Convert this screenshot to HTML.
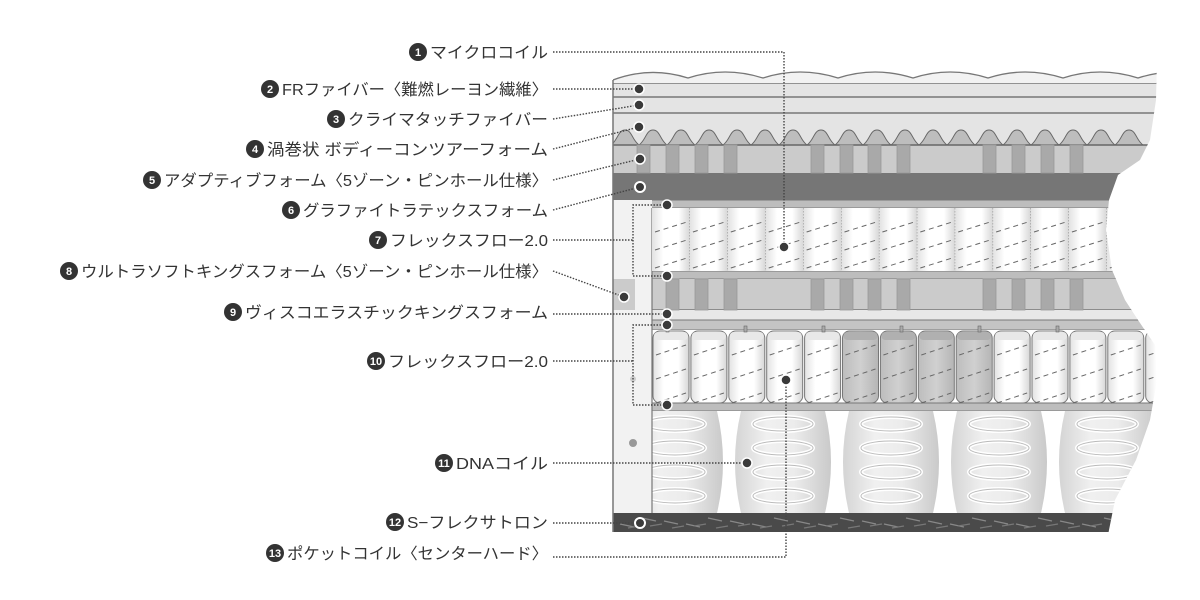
<!DOCTYPE html>
<html><head><meta charset="utf-8"><style>
html,body{margin:0;padding:0;background:#fff;width:1200px;height:600px;overflow:hidden}
svg{display:block}
.t{font-family:"Liberation Sans","Noto Sans CJK JP",sans-serif;font-size:16px;fill:#333}
.n{font-family:"Liberation Sans",sans-serif;font-size:11px;font-weight:bold;fill:#fff}
</style></head><body>
<svg id="s" width="1200" height="600" viewBox="0 0 1200 600" xmlns="http://www.w3.org/2000/svg">
<defs>
<clipPath id="cp"><path d="M613,60 L1157,60 L1156,100 L1150,140 L1140,160 L1118,175 L1109,200 L1106,230 L1112,270 L1125,300 L1138,320 L1155,345 L1157,380 L1150,420 L1136,460 L1115,500 L1108,535 L613,535 Z"/></clipPath>
<linearGradient id="pk" x1="0" x2="1" y1="0" y2="0">
<stop offset="0" stop-color="#e2e2e2"/><stop offset="0.3" stop-color="#fff"/><stop offset="0.7" stop-color="#fff"/><stop offset="1" stop-color="#d6d6d6"/></linearGradient>
<linearGradient id="pkd" x1="0" x2="1" y1="0" y2="0">
<stop offset="0" stop-color="#bdbdbd"/><stop offset="0.5" stop-color="#d0d0d0"/><stop offset="1" stop-color="#b5b5b5"/></linearGradient>
<linearGradient id="col" x1="0" x2="1" y1="0" y2="0">
<stop offset="0" stop-color="#cfcfcf"/><stop offset="0.35" stop-color="#f0f0f0"/><stop offset="0.6" stop-color="#ececec"/><stop offset="1" stop-color="#c4c4c4"/></linearGradient>
</defs>
<g id="m" clip-path="url(#cp)">
<rect x="613" y="83" width="560" height="62" fill="#e4e4e4"/>
<line x1="613" y1="83" x2="1170" y2="83" stroke="#777" stroke-width="1.5"/>
<line x1="613" y1="97" x2="1170" y2="97" stroke="#777" stroke-width="1.5"/>
<line x1="613" y1="113" x2="1170" y2="113" stroke="#777" stroke-width="1.5"/>
<rect x="613" y="145" width="560" height="28" fill="#cbcbcb"/>
<rect x="613" y="173" width="560" height="27" fill="#767676"/>
<rect x="613" y="200" width="560" height="8" fill="#bdbdbd" stroke="#777" stroke-width="1"/>
<rect x="613" y="208" width="560" height="63" fill="#fff"/>
<rect x="613" y="271" width="560" height="8" fill="#bdbdbd" stroke="#777" stroke-width="1"/>
<rect x="613" y="279" width="560" height="31" fill="#cbcbcb"/>
<line x1="613" y1="310" x2="1170" y2="310" stroke="#777" stroke-width="1.5"/>
<rect x="613" y="310" width="560" height="10" fill="#e8e8e8"/>
<rect x="613" y="320" width="560" height="10" fill="#c4c4c4" stroke="#777" stroke-width="1"/>
<rect x="613" y="330" width="560" height="73" fill="#fff"/>
<rect x="613" y="403" width="560" height="8" fill="#bdbdbd" stroke="#777" stroke-width="1"/>
<rect x="613" y="411" width="560" height="102" fill="#fafafa"/>
<rect x="613" y="513" width="560" height="19" fill="#4a4a4a"/>
</g>
<path d="M613,532 L613,80" stroke="#777" stroke-width="1.5"/>
</svg>
<script>
var s=document.getElementById('s'),m=document.getElementById('m'),NS='http://www.w3.org/2000/svg';
function el(p,t,a){var e=document.createElementNS(NS,t);for(var k in a)e.setAttribute(k,a[k]);p.appendChild(e);return e;}
// top wave (clipped)
var d='M613,80';for(var x=613;x<1160;x+=75){d+=' Q'+(x+37)+',66 '+(x+75)+',78';}
el(m,'path',{d:d+' L1170,83 L613,83 Z',fill:'#f2f2f2',stroke:'none'});
el(m,'path',{d:d,fill:'none',stroke:'#777','stroke-width':1.3});
// bumps
for(var c=625;c<1140;c+=28){el(m,'path',{d:'M'+(c-14)+',145 C'+(c-7)+',140 '+(c-7)+',130 '+c+',130 C'+(c+7)+',130 '+(c+7)+',140 '+(c+14)+',145 Z',fill:'#bdbdbd',stroke:'#666','stroke-width':1});}
el(m,'line',{x1:613,y1:145,x2:1170,y2:145,stroke:'#666','stroke-width':1.5});
// stripes
var bars=[637,666,695,724,811,840,868,897,983,1012,1041,1070];
bars.forEach(function(b){el(m,'rect',{x:b,y:145,width:13,height:28,fill:'#a9a9a9',stroke:'#999','stroke-width':0.8});el(m,'rect',{x:b,y:279,width:13,height:31,fill:'#a9a9a9',stroke:'#999','stroke-width':0.8});});
// left border strip
el(m,'rect',{x:613,y:200,width:39,height:313,fill:'#f2f2f2'});
el(m,'line',{x1:652,y1:208,x2:652,y2:513,stroke:'#777','stroke-width':1.2});
el(m,'rect',{x:613,y:279,width:22,height:31,fill:'#cbcbcb'});
// top pockets
for(var i=0;i<14;i++){var x=652+i*37.9;
el(m,'rect',{x:x,y:208,width:37.9,height:63,fill:'url(#pk)'});
el(m,'line',{x1:x+37.9,y1:208,x2:x+37.9,y2:271,stroke:'#888','stroke-dasharray':'1.5,1.5'});
for(var k=0;k<3;k++){var y=232+k*18;el(m,'path',{d:'M'+(x+3)+','+y+' L'+(x+35)+','+(y-10),stroke:'#666','stroke-dasharray':'5,4',fill:'none'});}}
// bottom pockets
for(var i=0;i<14;i++){var x=652+i*37.9,dark=(i>=5&&i<=8);
el(m,'rect',{x:x+1,y:331,width:36,height:72,rx:7,fill:dark?'url(#pkd)':'url(#pk)',stroke:'#777','stroke-width':1});
el(m,'rect',{x:x+2,y:332,width:34,height:8,rx:4,fill:dark?'#b0b0b0':'#e8e8e8'});
for(var k=0;k<3;k++){var y=355+k*24;el(m,'path',{d:'M'+(x+4)+','+y+' L'+(x+34)+','+(y-10),stroke:'#666','stroke-dasharray':'5,4',fill:'none'});}}
[666,744,822,900,978,1056].forEach(function(t){el(m,'rect',{x:t,y:326,width:3,height:6,fill:'#aaa',stroke:'#666','stroke-width':0.6});});
// DNA coil columns
[675,783,891,999,1107].forEach(function(c){
el(m,'rect',{x:c-54,y:411,width:108,height:102,fill:'url(#col)'});
for(var k=0;k<4;k++){var y=424+k*24;el(m,'ellipse',{cx:c,cy:y,rx:30,ry:7,fill:'none',stroke:'#fff','stroke-width':4});el(m,'ellipse',{cx:c,cy:y,rx:30,ry:7,fill:'none',stroke:'#bbb','stroke-width':1});}
});
[729,837,945,1053].forEach(function(g){el(m,'path',{d:'M'+(g-12)+',411 Q'+g+',462 '+(g-12)+',513 L'+(g+12)+',513 Q'+g+',462 '+(g+12)+',411 Z',fill:'#fff'});});
el(m,'rect',{x:613,y:411,width:39,height:102,fill:'#f2f2f2'});
el(m,'line',{x1:652,y1:411,x2:652,y2:513,stroke:'#777','stroke-width':1.2});
// bottom texture
for(var x=620;x<1120;x+=22){el(m,'path',{d:'M'+x+','+(518+(x%3)*3)+' l14,3',stroke:'#888','stroke-width':1.3});el(m,'path',{d:'M'+(x+8)+','+(528-(x%4))+' l12,-2',stroke:'#777','stroke-width':1.2});}
// small spheres
el(s,'circle',{cx:633,cy:379,r:3,fill:'#ccc'});el(s,'circle',{cx:633,cy:443,r:4,fill:'#999'});
// connectors
function dl(pts){el(s,'polyline',{points:pts,fill:'none',stroke:'#444','stroke-width':1.4,'stroke-dasharray':'1.5,1.5'});}
function dot(x,y,ring){el(s,'circle',{cx:x,cy:y,r:5,fill:'#3a3a3a',stroke:'#fff','stroke-width':ring?2:1.5});}
dl('553,52 784,52 784,247');dot(784,247);
dl('553,89 639,89');dot(639,89);
dl('553,119 639,105');dot(639,105);
dl('553,149 639,127');dot(639,127);
dl('553,180 640,159');dot(640,159);
dl('553,210 640,187');dot(640,187,1);
dl('553,240 633,240');dl('667,205 633,205 633,276 667,276');dot(667,205);dot(667,276);
dl('553,271 624,297');dot(624,297);
dl('553,314 667,314');dot(667,314);
dl('553,361 633,361');dl('667,325 633,325 633,405 667,405');dot(667,325);dot(667,405);
dl('553,463 747,463');dot(747,463);
dl('553,523 640,523');dot(640,523,1);
dl('553,557 786,557 786,380');dot(786,380);
// labels
var L=[[52,418,'マイクロコイル','1'],[89,270,'FRファイバー〈難燃レーヨン繊維〉','2'],[119,336,'クライマタッチファイバー','3'],[149,255,'渦巻状 ボディーコンツアーフォーム','4'],[180,152,'アダプティブフォーム〈5ゾーン・ピンホール仕様〉','5'],[210,291,'グラファイトラテックスフォーム','6'],[240,378,'フレックスフロー2.0','7'],[271,69,'ウルトラソフトキングスフォーム〈5ゾーン・ピンホール仕様〉','8'],[312,233,'ヴィスコエラスチックキングスフォーム','9'],[361,376,'フレックスフロー2.0','10'],[463,444,'DNAコイル','11'],[522,395,'S−フレクサトロン','12'],[553,275,'ポケットコイル〈センターハード〉','13']];
L.forEach(function(l){el(s,'circle',{cx:l[1],cy:l[0],r:9,fill:'#333'});
var n=el(s,'text',{x:l[1],y:l[0]+4,'text-anchor':'middle','class':'n'});n.textContent=l[3];
var st=l[1]+12;var t=el(s,'text',{x:st,y:l[0]+6,'class':'t',textLength:548-st,lengthAdjust:'spacingAndGlyphs'});t.textContent=l[2];});
</script>
</body></html>
